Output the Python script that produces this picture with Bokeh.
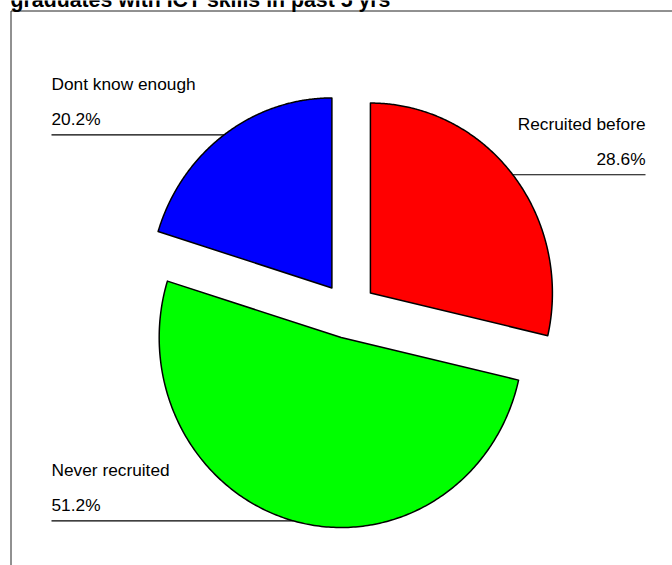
import numpy as np
from bokeh.plotting import figure
from bokeh.models import Range1d
from bokeh.embed import file_html
from bokeh.resources import INLINE
from bokeh.core.properties import value

# ---- data ----
title_text = "graduates with ICT skills in past 5 yrs"
categories = ["Recruited before", "Never recruited", "Dont know enough"]
shares = [28.6, 51.2, 20.2]
pct_labels = ["28.6%", "51.2%", "20.2%"]
colors = ["#FF0000", "#00FF00", "#0000FF"]

# ---- layout (pixel space) ----
W, H = 672, 565
cx, cy = 348.0, 310.0
rx, ry = 182.0, 190.0
explode = 28.0
left_x, right_x = 51.0, 645.0
FONT = "Liberation Sans"
TXT_SHIFT = 7.0  # svg baseline correction

p = figure(width=W, height=H, output_backend="svg", toolbar_location=None,
           x_range=Range1d(0, W), y_range=Range1d(H, 0), min_border=0)
p.axis.visible = False
p.grid.visible = False
p.outline_line_color = None
p.background_fill_color = "white"
p.border_fill_color = "white"

# frame lines
p.line([10.5, W], [10.5, 10.5], line_color="#222222", line_width=1)
p.line([10.5, 10.5], [10.5, H], line_color="#222222", line_width=1)

# title (partly cut off at the top as in the reference)
p.text(x=[10], y=[6 - TXT_SHIFT], text=[title_text], text_font=value(FONT), text_font_size="21.3px",
       text_font_style="bold", text_baseline="alphabetic", text_align="left", text_color="black")

start = 90.0
for cat, share, pct, col in zip(categories, shares, pct_labels, colors):
    sweep = share * 3.6
    end = start - sweep
    mid = np.radians((start + end) / 2)
    vx = cx + explode * np.cos(mid)
    vy = cy - explode * np.sin(mid)
    t = np.radians(np.linspace(start, end, 240))
    px = vx + rx * np.cos(t)
    py = vy - ry * np.sin(t)
    p.patch(x=np.concatenate([[vx], px]), y=np.concatenate([[vy], py]),
            fill_color=col, line_color="black", line_width=1.5, line_join="round")
    # leader line from arc at mid angle
    ax = vx + rx * np.cos(mid)
    ay = vy - ry * np.sin(mid)
    if np.cos(mid) < 0:
        lx, align = left_x, "left"
    else:
        lx, align = right_x, "right"
    p.line([ax, lx], [ay, ay], line_color="black", line_width=1.2)
    p.text(x=[lx], y=[ay - 8.5 - TXT_SHIFT], text=[pct], text_font=value(FONT), text_font_size="17.3px",
           text_baseline="alphabetic", text_align=align, text_color="black")
    p.text(x=[lx], y=[ay - 44 - TXT_SHIFT], text=[cat], text_font=value(FONT), text_font_size="17.3px",
           text_baseline="alphabetic", text_align=align, text_color="black")
    start = end

open("out.html", "w").write(file_html(p, INLINE))
